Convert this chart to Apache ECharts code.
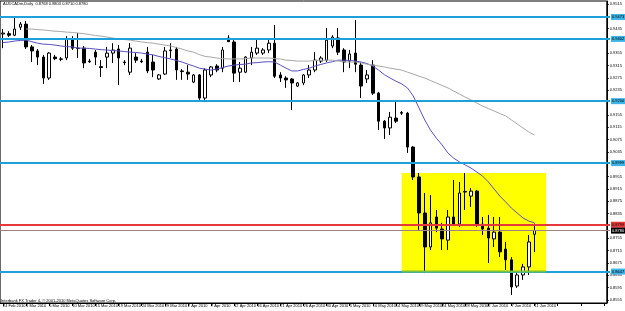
<!DOCTYPE html>
<html>
<head>
<meta charset="utf-8">
<script src="https://cdn.jsdelivr.net/npm/echarts@6/dist/echarts.min.js"></script>
<style>
    html, body { margin: 0; padding: 0; background: #fff; }
    #chart { width: 625px; height: 311px; }
</style>
</head>
<body>
<div id="chart"></div>
<script>
// daily bars (broker sends sunday candles too)
var dates = [
    '24 Feb 2010', '25 Feb 2010', '26 Feb 2010', '28 Feb 2010',
    '1 Mar 2010', '2 Mar 2010', '3 Mar 2010', '4 Mar 2010', '5 Mar 2010', '7 Mar 2010', '8 Mar 2010', '9 Mar 2010',
    '10 Mar 2010', '11 Mar 2010', '12 Mar 2010', '14 Mar 2010', '15 Mar 2010', '16 Mar 2010', '17 Mar 2010', '18 Mar 2010',
    '19 Mar 2010', '21 Mar 2010', '22 Mar 2010', '23 Mar 2010', '24 Mar 2010', '25 Mar 2010', '26 Mar 2010', '28 Mar 2010',
    '29 Mar 2010', '30 Mar 2010', '31 Mar 2010',
    '1 Apr 2010', '2 Apr 2010', '4 Apr 2010', '5 Apr 2010', '6 Apr 2010', '7 Apr 2010', '8 Apr 2010', '9 Apr 2010',
    '11 Apr 2010', '12 Apr 2010', '13 Apr 2010', '14 Apr 2010', '15 Apr 2010', '16 Apr 2010', '18 Apr 2010', '19 Apr 2010',
    '20 Apr 2010', '21 Apr 2010', '22 Apr 2010', '23 Apr 2010', '25 Apr 2010', '26 Apr 2010', '27 Apr 2010', '28 Apr 2010',
    '29 Apr 2010', '30 Apr 2010',
    '2 May 2010', '3 May 2010', '4 May 2010', '5 May 2010', '6 May 2010', '7 May 2010', '9 May 2010', '10 May 2010',
    '11 May 2010', '12 May 2010', '13 May 2010', '14 May 2010', '16 May 2010', '17 May 2010', '18 May 2010', '19 May 2010',
    '20 May 2010', '21 May 2010', '23 May 2010', '24 May 2010', '25 May 2010', '26 May 2010', '27 May 2010', '28 May 2010',
    '30 May 2010', '31 May 2010',
    '1 Jun 2010', '2 Jun 2010', '3 Jun 2010', '4 Jun 2010', '6 Jun 2010', '7 Jun 2010', '8 Jun 2010', '9 Jun 2010',
    '10 Jun 2010', '11 Jun 2010'
];

// [open, close, low, high]
var ohlc = [
    [0.9418, 0.9421, 0.9372, 0.9434], [0.9419, 0.9414, 0.9408, 0.9427], [0.9414, 0.9434, 0.9411, 0.9476], [0.9440, 0.9450, 0.9431, 0.9457],
    [0.9450, 0.9376, 0.9369, 0.9460], [0.9376, 0.9363, 0.9327, 0.9382], [0.9363, 0.9343, 0.9317, 0.9369], [0.9343, 0.9275, 0.9256, 0.9350],
    [0.9275, 0.9356, 0.9269, 0.9359], [0.9343, 0.9338, 0.9333, 0.9350], [0.9337, 0.9336, 0.9330, 0.9343], [0.9340, 0.9401, 0.9333, 0.9411],
    [0.9401, 0.9372, 0.9366, 0.9411], [0.9372, 0.9371, 0.9340, 0.9421], [0.9372, 0.9324, 0.9307, 0.9379], [0.9330, 0.9328, 0.9324, 0.9337],
    [0.9359, 0.9343, 0.9317, 0.9366], [0.9312, 0.9309, 0.9278, 0.9333], [0.9343, 0.9356, 0.9307, 0.9376], [0.9356, 0.9366, 0.9324, 0.9388],
    [0.9369, 0.9340, 0.9252, 0.9382], [0.9327, 0.9325, 0.9317, 0.9333], [0.9294, 0.9372, 0.9285, 0.9388], [0.9343, 0.9333, 0.9324, 0.9356],
    [0.9330, 0.9328, 0.9324, 0.9337], [0.9359, 0.9298, 0.9291, 0.9376], [0.9327, 0.9301, 0.9278, 0.9350], [0.9272, 0.9285, 0.9269, 0.9288],
    [0.9288, 0.9363, 0.9285, 0.9376], [0.9366, 0.9364, 0.9340, 0.9388], [0.9369, 0.9301, 0.9269, 0.9376], [0.9298, 0.9296, 0.9269, 0.9304],
    [0.9294, 0.9288, 0.9269, 0.9317], [0.9262, 0.9285, 0.9259, 0.9288], [0.9285, 0.9210, 0.9204, 0.9288], [0.9210, 0.9301, 0.9197, 0.9307],
    [0.9285, 0.9311, 0.9278, 0.9314], [0.9314, 0.9301, 0.9294, 0.9320], [0.9307, 0.9366, 0.9294, 0.9376], [0.9405, 0.9393, 0.9392, 0.9414],
    [0.9392, 0.9291, 0.9262, 0.9398], [0.9294, 0.9307, 0.9262, 0.9327], [0.9294, 0.9343, 0.9291, 0.9346], [0.9340, 0.9359, 0.9317, 0.9376],
    [0.9356, 0.9372, 0.9350, 0.9405], [0.9356, 0.9366, 0.9350, 0.9372], [0.9366, 0.9388, 0.9356, 0.9405], [0.9388, 0.9281, 0.9275, 0.9447],
    [0.9285, 0.9275, 0.9262, 0.9294], [0.9275, 0.9269, 0.9243, 0.9281], [0.9272, 0.9259, 0.9171, 0.9275], [0.9249, 0.9259, 0.9246, 0.9262],
    [0.9259, 0.9285, 0.9252, 0.9288], [0.9285, 0.9301, 0.9275, 0.9317], [0.9301, 0.9333, 0.9294, 0.9359], [0.9330, 0.9340, 0.9324, 0.9346],
    [0.9333, 0.9398, 0.9327, 0.9437], [0.9379, 0.9408, 0.9372, 0.9414], [0.9405, 0.9359, 0.9350, 0.9437], [0.9366, 0.9327, 0.9294, 0.9372],
    [0.9330, 0.9353, 0.9307, 0.9366], [0.9356, 0.9320, 0.9294, 0.9463], [0.9317, 0.9249, 0.9210, 0.9327], [0.9272, 0.9285, 0.9259, 0.9301],
    [0.9317, 0.9226, 0.9220, 0.9333], [0.9226, 0.9135, 0.9106, 0.9230], [0.9135, 0.9113, 0.9077, 0.9139], [0.9113, 0.9148, 0.9090, 0.9165],
    [0.9145, 0.9135, 0.9129, 0.9204], [0.9163, 0.9161, 0.9155, 0.9168], [0.9161, 0.9051, 0.9032, 0.9165], [0.9051, 0.8954, 0.8944, 0.9054],
    [0.8954, 0.8837, 0.8782, 0.8967], [0.8837, 0.8727, 0.8642, 0.8902], [0.8727, 0.8805, 0.8717, 0.8895], [0.8824, 0.8788, 0.8775, 0.8847],
    [0.8785, 0.8753, 0.8717, 0.8805], [0.8749, 0.8824, 0.8717, 0.8847], [0.8824, 0.8801, 0.8798, 0.8944], [0.8801, 0.8902, 0.8792, 0.8938],
    [0.8907, 0.8905, 0.8847, 0.8967], [0.8892, 0.8908, 0.8857, 0.8918], [0.8908, 0.8798, 0.8792, 0.8912], [0.8801, 0.8785, 0.8766, 0.8824],
    [0.8788, 0.8756, 0.8675, 0.8831], [0.8753, 0.8775, 0.8727, 0.8824], [0.8775, 0.8711, 0.8694, 0.8824], [0.8720, 0.8685, 0.8652, 0.8743],
    [0.8685, 0.8597, 0.8571, 0.8694], [0.8600, 0.8636, 0.8594, 0.8646], [0.8636, 0.8662, 0.8620, 0.8672], [0.8662, 0.8743, 0.8636, 0.8766],
    [0.8768, 0.8780, 0.8710, 0.8803]
];

// moving averages as drawn on the chart
var maFast = [
    0.9390, 0.9392, 0.9395, 0.9397, 0.9398, 0.9393, 0.9388, 0.9385, 0.9384, 0.9382,
    0.9379, 0.9377, 0.9376, 0.9372, 0.9372, 0.9371, 0.9369, 0.9367, 0.9366, 0.9364,
    0.9363, 0.9361, 0.9359, 0.9358, 0.9356, 0.9353, 0.9350, 0.9345, 0.9341, 0.9337,
    0.9332, 0.9327, 0.9320, 0.9314, 0.9307, 0.9304, 0.9301, 0.9304, 0.9309, 0.9314,
    0.9317, 0.9319, 0.9320, 0.9324, 0.9325, 0.9327, 0.9328, 0.9327, 0.9317, 0.9307,
    0.9298, 0.9298, 0.9303, 0.9307, 0.9314, 0.9319, 0.9324, 0.9328, 0.9333, 0.9333,
    0.9332, 0.9330, 0.9327, 0.9322, 0.9314, 0.9301, 0.9286, 0.9275, 0.9265, 0.9256,
    0.9243, 0.9217, 0.9178, 0.9139, 0.9106, 0.9080, 0.9058, 0.9032, 0.9015, 0.9003,
    0.8993, 0.8983, 0.8970, 0.8957, 0.8938, 0.8915, 0.8892, 0.8873, 0.8853, 0.8837,
    0.8821, 0.8811, 0.8805
];
var maSlow = [
    null, null, null, null, 0.9434, 0.9434, 0.9432, 0.9431, 0.9429, 0.9427,
    0.9426, 0.9424, 0.9423, 0.9421, 0.9419, 0.9416, 0.9413, 0.9411, 0.9408, 0.9405,
    0.9401, 0.9400, 0.9398, 0.9395, 0.9392, 0.9390, 0.9388, 0.9385, 0.9382, 0.9379,
    0.9374, 0.9369, 0.9363, 0.9359, 0.9351, 0.9345, 0.9343, 0.9340, 0.9338, 0.9337,
    0.9337, 0.9337, 0.9338, 0.9340, 0.9340, 0.9340, 0.9340, 0.9338, 0.9337, 0.9333,
    0.9332, 0.9330, 0.9330, 0.9330, 0.9332, 0.9333, 0.9333, 0.9333, 0.9330, 0.9328,
    0.9327, 0.9327, 0.9324, 0.9320, 0.9317, 0.9314, 0.9311, 0.9307, 0.9304, 0.9301,
    0.9294, 0.9288, 0.9281, 0.9275, 0.9267, 0.9259, 0.9251, 0.9243, 0.9233, 0.9223,
    0.9213, 0.9204, 0.9194, 0.9184, 0.9176, 0.9168, 0.9160, 0.9152, 0.9139, 0.9126,
    0.9113, 0.9100, 0.9090
];

var priceTicks = [
    0.8555, 0.8595, 0.8635, 0.8675, 0.8715, 0.8755, 0.8835, 0.8875, 0.8915, 0.8955,
    0.9035, 0.9075, 0.9115, 0.9155, 0.9235, 0.9275, 0.9315, 0.9355, 0.9435, 0.9515
];
var blueLevels = [0.9473, 0.9402, 0.9200, 0.8999, 0.8647];
var redLevel = 0.8799;
var bidPrice = 0.8780;
var boxTop = 0.8967;
var boxBottom = 0.8647;
var boxFrom = 69, boxTo = 94;
var quote = 'AUDCADm,Daily  0.8768 0.8803 0.8710 0.8780';

var cats = dates.slice();
while (cats.length < 105) cats.push('');   // chart shift space on the right

var font = 'Liberation Sans';
var nCats = cats.length - 1;

// full-width horizontal object with its price box on the axis
function hLine(v, color, width, boxColor, textColor) {
    return [
        {
            coord: [0, v],
            x: 0,
            lineStyle: { color: color, width: width, type: 'solid' },
            label: {
                show: true, position: 'end', distance: 1, formatter: v.toFixed(4),
                backgroundColor: boxColor, color: textColor, fontSize: 4, fontFamily: font, padding: [1, 1]
            }
        },
        { coord: [nCats, v], x: 610 }
    ];
}

var lineMarks = [];
blueLevels.forEach(function (v) {
    lineMarks.push(hLine(v, '#1ea0dc', 2, '#3cb4e6', '#000'));
});
lineMarks.push(hLine(redLevel, '#e8393a', 2, '#e8393a', '#000'));
lineMarks.push(hLine(bidPrice, '#a08080', 1, '#000', '#fff'));

var chart = echarts.init(document.getElementById('chart'), null, { renderer: 'canvas' });
chart.setOption({
    backgroundColor: '#fff',
    animation: false,
    grid: { left: -1.4, right: 15, top: 1, bottom: 8, show: true, borderColor: '#000', borderWidth: 1 },
    graphic: [
        { type: 'text', left: 3, top: 2, style: { text: quote, fontSize: 4, fontFamily: font, fill: '#000' } },
        { type: 'text', left: 1, top: 299, style: { text: 'Interbank FX Trader 4, \u00a9 2001-2010 MetaQuotes Software Corp.', fontSize: 4, fontFamily: font, fill: '#000' } }
    ],
    xAxis: {
        type: 'category',
        data: cats,
        boundaryGap: true,
        axisLine: { show: true, lineStyle: { color: '#000', width: 1 } },
        axisTick: { show: true, interval: 3, alignWithLabel: true, length: 3, lineStyle: { color: '#000' } },
        axisLabel: { interval: 3, fontSize: 4, fontFamily: font, color: '#000', align: 'left', margin: 1 },
        splitLine: { show: false }
    },
    yAxis: {
        type: 'value',
        position: 'right',
        min: 0.8545,
        max: 0.9525,
        axisLine: { show: true, lineStyle: { color: '#000', width: 1 } },
        axisTick: { show: true, length: 2, customValues: priceTicks, lineStyle: { color: '#000' } },
        axisLabel: { customValues: priceTicks, fontSize: 4, fontFamily: font, color: '#000', margin: 3,
            formatter: function (v) { return v.toFixed(4); } },
        splitLine: { show: false }
    },
    series: [
        {
            name: 'AUDCADm',
            type: 'candlestick',
            data: ohlc,
            z: 3,
            barWidth: 3,
            itemStyle: {
                color: '#ffffff',
                color0: '#000000',
                borderColor: '#000000',
                borderColor0: '#000000',
                borderWidth: 1
            },
            markArea: {
                silent: true,
                z: 1,
                itemStyle: { color: '#ffff00', opacity: 1 },
                data: [[{ coord: [boxFrom, boxTop] }, { coord: [boxTo, boxBottom] }]]
            },
            markLine: {
                silent: true,
                z: 5,
                symbol: ['none', 'none'],
                animation: false,
                data: lineMarks
            }
        },
        {
            name: 'MA fast',
            type: 'line',
            data: maFast,
            z: 4,
            symbol: 'none',
            lineStyle: { color: '#5a4fc0', width: 1 }
        },
        {
            name: 'MA slow',
            type: 'line',
            data: maSlow,
            z: 4,
            symbol: 'none',
            lineStyle: { color: '#a8a8a8', width: 1 }
        },
        {
            // rectangle's lower edge, drawn over the support line
            name: 'box edge',
            type: 'line',
            data: [[boxFrom, boxBottom], [boxTo, boxBottom]],
            z: 10,
            zlevel: 1,
            symbol: 'none',
            silent: true,
            lineStyle: { color: '#7cc040', width: 2 }
        }
    ]
});
</script>
</body>
</html>
